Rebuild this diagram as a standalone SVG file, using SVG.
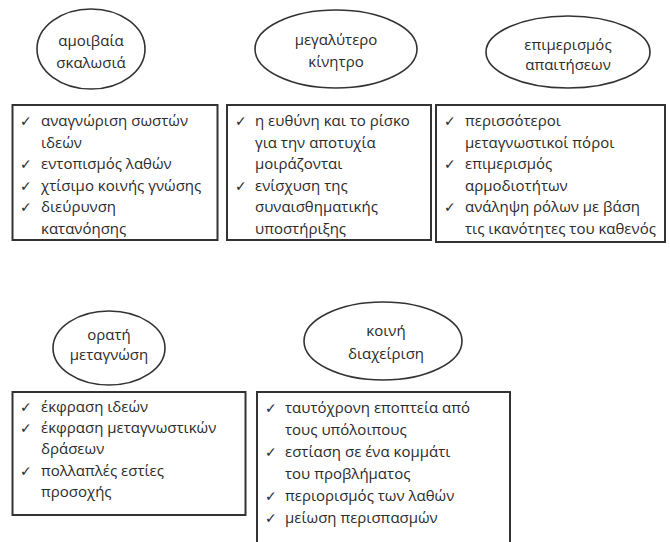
<svg xmlns="http://www.w3.org/2000/svg" width="670" height="542" viewBox="0 0 670 542">
<style>
text{font-family:"Open Sans","Noto Sans","DejaVu Sans",sans-serif;font-size:15px;fill:#2b2b2b}
.c{text-anchor:middle}
.k{font-family:"DejaVu Sans",sans-serif;font-size:14px}
.e{fill:#fff;stroke:#333;stroke-width:1.6}
.b{fill:#fff;stroke:#333;stroke-width:2}
</style>
<rect width="670" height="542" fill="#fff"/>
<g id="connectors"></g>
<g id="n1">
<ellipse class="e" cx="91" cy="49" rx="54" ry="40"/>
<text class="c" x="91" y="46">αμοιβαία</text>
<text class="c" x="91" y="68">σκαλωσιά</text>
</g>
<g id="n2">
<ellipse class="e" cx="336" cy="49" rx="81" ry="39"/>
<text class="c" x="336" y="45">μεγαλύτερο</text>
<text class="c" x="336" y="67">κίνητρο</text>
</g>
<g id="n3">
<ellipse class="e" cx="568" cy="52" rx="82" ry="36"/>
<text class="c" x="568" y="50">επιμερισμός</text>
<text class="c" x="568" y="70">απαιτήσεων</text>
</g>
<g id="n4">
<ellipse class="e" cx="109" cy="348" rx="56" ry="37"/>
<text class="c" x="109" y="340">ορατή</text>
<text class="c" x="109" y="360">μεταγνώση</text>
</g>
<g id="n5">
<ellipse class="e" cx="383" cy="341" rx="79" ry="39"/>
<text class="c" x="386" y="336">κοινή</text>
<text class="c" x="386" y="359">διαχείριση</text>
</g>
<g id="b1">
<rect class="b" x="12.5" y="105" width="205" height="135"/>
<text class="k" x="20" y="126">✓</text><text x="41" y="126">αναγνώριση σωστών</text>
<text x="41" y="147.5">ιδεών</text>
<text class="k" x="20" y="169">✓</text><text x="41" y="169">εντοπισμός λαθών</text>
<text class="k" x="20" y="190.5">✓</text><text x="41" y="190.5">χτίσιμο κοινής γνώσης</text>
<text class="k" x="20" y="212">✓</text><text x="41" y="212">διεύρυνση</text>
<text x="41" y="233.5">κατανόησης</text>
</g>
<g id="b2">
<rect class="b" x="227" y="105" width="204" height="135"/>
<text class="k" x="235" y="126">✓</text><text x="255" y="126">η ευθύνη και το ρίσκο</text>
<text x="255" y="147.5">για την αποτυχία</text>
<text x="255" y="169">μοιράζονται</text>
<text class="k" x="235" y="190.5">✓</text><text x="255" y="190.5">ενίσχυση της</text>
<text x="255" y="212">συναισθηματικής</text>
<text x="255" y="233.5">υποστήριξης</text>
</g>
<g id="b3">
<rect class="b" x="436" y="105" width="229" height="137"/>
<text class="k" x="444" y="126">✓</text><text x="465" y="126">περισσότεροι</text>
<text x="465" y="147.5">μεταγνωστικοί πόροι</text>
<text class="k" x="444" y="169">✓</text><text x="465" y="169">επιμερισμός</text>
<text x="465" y="190.5">αρμοδιοτήτων</text>
<text class="k" x="444" y="212">✓</text><text x="465" y="212">ανάληψη ρόλων με βάση</text>
<text x="465" y="233.5">τις ικανότητες του καθενός</text>
</g>
<g id="b4">
<rect class="b" x="12.5" y="392" width="233" height="123"/>
<text class="k" x="20" y="412">✓</text><text x="41" y="412">έκφραση ιδεών</text>
<text class="k" x="20" y="433">✓</text><text x="41" y="433">έκφραση μεταγνωστικών</text>
<text x="41" y="454">δράσεων</text>
<text class="k" x="20" y="475.5">✓</text><text x="41" y="475.5">πολλαπλές εστίες</text>
<text x="41" y="497">προσοχής</text>
</g>
<g id="b5">
<rect class="b" x="257" y="392" width="253" height="155"/>
<text class="k" x="265" y="413">✓</text><text x="285" y="413">ταυτόχρονη εποπτεία από</text>
<text x="285" y="435">τους υπόλοιπους</text>
<text class="k" x="265" y="457">✓</text><text x="285" y="457">εστίαση σε ένα κομμάτι</text>
<text x="285" y="479">του προβλήματος</text>
<text class="k" x="265" y="501">✓</text><text x="285" y="501">περιορισμός των λαθών</text>
<text class="k" x="265" y="523">✓</text><text x="285" y="523">μείωση περισπασμών</text>
</g>
</svg>
